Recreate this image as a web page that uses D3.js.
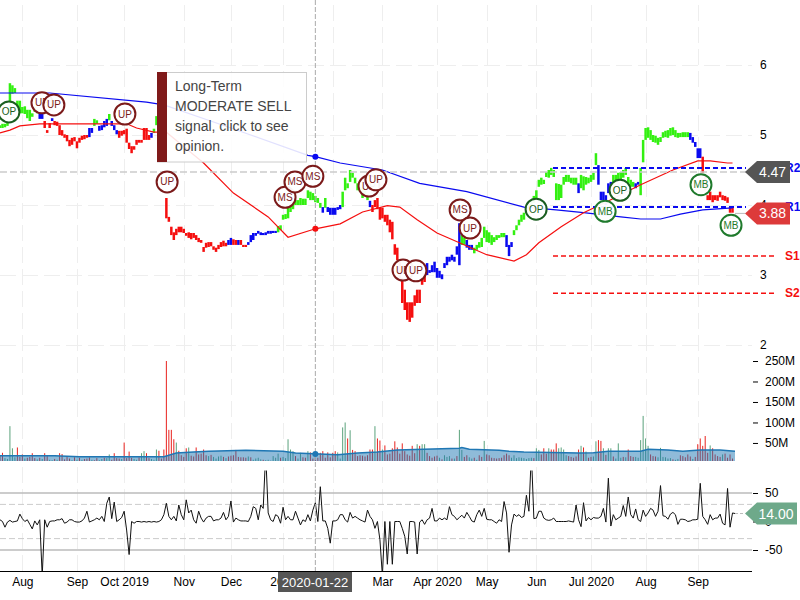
<!DOCTYPE html>
<meta charset="utf-8">
<style>
body { margin: 0; background: #fff; }
svg { display: block; font-family: "Liberation Sans", Arial, sans-serif; }
.axis text { fill: #000; font-size: 12px; font-family: "Liberation Sans", Arial, sans-serif; }
.axis .domain { display: none; }
.grid line { stroke: #eee; stroke-dasharray: 16 6; }
</style>
<body></body>
<script src="https://d3js.org/d3.v7.min.js"></script>
<script>
// one entry per trading day, index 0 is the left edge of the chart
const priceHigh = [
    5.14,5.16,5.16,5.19,5.74,5.71,5.67,5.49,5.49,5.40,5.41,5.36,5.36,5.31,5.40,5.37,5.31,5.30,5.20,5.07,
    5.17,5.24,5.20,5.19,5.14,5.07,5.01,5.00,4.93,4.96,4.97,4.91,4.96,4.99,5.00,5.00,5.10,5.10,5.23,5.21,
    5.13,5.14,5.20,5.23,5.30,5.20,5.14,5.07,5.06,5.06,5.07,5.09,4.89,4.84,4.84,4.93,4.93,4.93,5.10,5.10,
    5.00,5.03,5.09,5.27,5.26,5.24,5.21,4.10,3.83,3.69,3.61,3.66,3.69,3.69,3.66,3.60,3.61,3.60,3.60,3.57,
    3.53,3.50,3.40,3.46,3.47,3.47,3.41,3.39,3.43,3.47,3.49,3.46,3.50,3.53,3.51,3.50,3.50,3.50,3.43,3.43,
    3.47,3.57,3.60,3.60,3.63,3.61,3.60,3.61,3.63,3.63,3.63,3.63,3.70,3.71,3.86,3.87,3.96,4.00,4.03,4.07,
    4.07,4.10,4.09,4.09,4.21,4.19,4.17,4.13,4.10,4.03,3.97,4.10,3.97,3.96,3.96,3.96,3.97,4.00,4.19,4.39,
    4.31,4.50,4.46,4.39,4.31,4.26,4.24,4.21,4.16,4.06,4.00,4.07,4.10,3.96,3.96,3.86,3.86,3.79,3.76,3.44,
    3.39,3.19,2.96,2.79,2.61,2.61,2.61,2.71,2.79,2.79,2.97,3.03,3.17,3.07,3.14,3.19,3.10,3.06,3.01,3.17,
    3.26,3.26,3.29,3.26,3.41,3.74,3.57,3.53,3.50,3.43,3.43,3.39,3.43,3.47,3.53,3.69,3.64,3.61,3.57,3.54,
    3.57,3.57,3.60,3.60,3.57,3.43,3.47,3.64,3.71,3.79,3.86,3.89,3.97,4.01,4.06,4.13,4.21,4.36,4.39,4.36,
    4.47,4.50,4.53,4.50,4.31,4.30,4.29,4.40,4.43,4.43,4.39,4.39,4.39,4.31,4.43,4.41,4.40,4.39,4.43,4.46,
    4.74,4.57,4.19,4.19,4.14,4.31,4.33,4.43,4.43,4.46,4.47,4.50,4.53,4.40,4.36,4.33,4.31,4.33,4.53,4.93,
    5.10,5.11,5.07,5.00,4.99,4.96,4.97,5.04,5.06,5.07,5.10,5.11,5.07,5.03,5.03,5.04,5.04,5.04,5.03,4.97,
    4.90,4.81,4.81,4.69,4.43,4.14,4.19,4.14,4.14,4.14,4.19,4.14,4.13,4.11,3.97,3.97
]
const priceLow = [
    5.10,5.10,5.11,5.13,5.33,5.59,5.60,5.34,5.31,5.31,5.30,5.24,5.20,5.26,5.33,5.31,5.23,5.23,5.10,5.03,
    5.10,5.20,5.14,5.13,5.00,4.99,4.96,4.91,4.84,4.86,4.91,4.81,4.89,4.93,4.94,4.96,4.97,5.03,5.13,5.16,
    5.06,5.07,5.11,5.13,5.21,5.13,5.07,5.01,4.96,4.99,5.01,4.89,4.80,4.74,4.79,4.86,4.89,4.89,4.93,4.93,
    4.93,4.96,5.03,5.14,5.13,5.13,5.10,3.81,3.76,3.57,3.50,3.57,3.61,3.61,3.60,3.56,3.53,3.51,3.53,3.50,
    3.47,3.46,3.33,3.39,3.40,3.41,3.36,3.33,3.37,3.40,3.41,3.41,3.43,3.43,3.43,3.43,3.43,3.43,3.40,3.40,
    3.43,3.47,3.50,3.56,3.59,3.57,3.57,3.57,3.59,3.59,3.60,3.60,3.61,3.64,3.79,3.80,3.81,3.90,3.94,4.00,
    4.00,4.00,4.00,4.00,4.10,4.07,4.07,4.04,4.03,3.96,3.89,3.96,3.90,3.86,3.86,3.86,3.93,3.94,3.97,4.21,
    4.24,4.33,4.39,4.31,4.21,4.19,4.10,4.13,4.07,3.97,3.90,3.97,3.94,3.79,3.81,3.76,3.71,3.61,3.51,3.29,
    3.21,2.93,2.60,2.50,2.36,2.33,2.39,2.56,2.60,2.60,2.86,2.90,3.00,3.03,3.04,3.04,2.96,2.96,2.94,3.10,
    3.14,3.19,3.21,3.19,3.29,3.14,3.43,3.43,3.39,3.36,3.36,3.31,3.36,3.39,3.40,3.53,3.47,3.46,3.43,3.47,
    3.50,3.53,3.54,3.54,3.40,3.27,3.40,3.57,3.64,3.71,3.76,3.79,3.89,3.93,3.99,4.03,4.10,4.26,4.29,4.30,
    4.40,4.39,4.43,4.40,4.07,4.07,4.10,4.29,4.33,4.33,4.31,4.29,4.29,4.17,4.24,4.21,4.29,4.31,4.33,4.36,
    4.57,4.29,4.07,4.07,4.00,4.17,4.24,4.29,4.33,4.36,4.36,4.39,4.43,4.31,4.26,4.26,4.24,4.29,4.14,4.61,
    4.93,4.96,4.93,4.90,4.89,4.86,4.90,4.96,4.97,4.96,4.99,5.00,4.97,4.96,4.97,4.97,4.97,4.97,4.93,4.89,
    4.83,4.67,4.67,4.46,4.21,4.07,4.07,4.04,4.07,4.06,4.11,4.07,4.06,4.03,3.89,3.89
]
// signal of each day as [signal, number of days in a row]
const signalRuns = [
    ['buy',16],['hold',2],['sell',3],['hold',1],['sell',14],['hold',2],['buy',2],['hold',4],['buy',1],['hold',3],
    ['sell',13],['hold',1],['buy',5],['sell',25],['hold',2],['sell',2],['hold',1],['sell',3],['hold',12],['buy',18],
    ['hold',1],['buy',1],['hold',6],['buy',11],['hold',1],['sell',22],['hold',14],['buy',2],['hold',3],['buy',13],
    ['hold',3],['buy',26],['hold',1],['buy',7],['hold',6],['buy',9],['hold',2],['buy',20],['hold',5],['sell',13]
]
// millions of shares, a negative number is a down day
const volume = [
    -18,-26,13,11,91,37,15,-39,-16,-22,12,-14,-16,-25,-13,10,-14,11,-25,-18,
    9,8,-11,9,-25,-23,-10,-17,-12,8,-15,9,-14,9,-11,-12,-15,9,-8,-13,
    8,11,-14,13,22,-9,-25,-13,-12,11,-51,-13,-29,-14,11,9,-15,25,30,-25,
    -13,11,9,34,-31,-12,-34,-250,-82,-82,-59,51,-31,-20,-16,-37,39,-19,-17,-39,
    -22,-24,-34,-20,18,-21,16,12,17,19,-16,13,-17,-19,-20,-33,-16,-15,-15,-14,
    17,-15,9,12,14,10,-9,8,9,7,18,14,24,-14,16,13,59,34,30,-18,
    12,26,-15,-14,30,-27,-12,-15,-14,-26,-30,-14,-27,-15,-26,-30,27,12,88,100,
    -61,81,-33,-30,-18,-20,-19,-17,-20,-34,-34,91,-61,-56,34,-44,-22,-24,-37,-54,
    -39,-24,-49,-30,-22,-19,-43,-25,47,-43,47,47,-26,-18,-14,-17,-19,14,-10,20,
    16,18,-12,12,-18,82,33,-16,-20,15,12,-14,9,-20,-16,55,-22,-20,-14,-13,
    -12,-13,-14,-20,-24,-20,14,20,13,15,14,13,11,13,14,-13,37,33,-22,-37,
    -24,37,-34,-34,-49,37,39,34,20,-18,-16,-14,-17,-34,43,-39,29,-14,-16,17,
    54,-57,-55,37,-21,37,37,-17,12,49,14,-16,15,-34,-18,-16,16,14,57,116,
    61,43,-22,-18,-17,15,38,16,15,12,13,-10,9,11,-20,-18,-15,-22,-17,11,
    -16,-47,-61,-43,-67,-26,44,-37,-22,-18,-16,22,-24,-14,-22,-12
]
const oscillator = [
    3,0,-10,-1,2,-1,0,1,13,5,0,3,-5,-13,1,-6,3,-95,3,-10,
    0,1,1,3,3,5,-3,-1,3,3,0,-1,-1,1,6,18,-1,1,3,6,
    3,9,0,32,43,5,34,0,3,7,18,-15,-58,0,-3,0,0,-1,0,-1,
    0,-1,0,-1,0,3,12,32,9,3,9,1,29,12,3,38,15,20,3,-3,
    18,6,-1,6,9,9,1,3,3,6,16,3,9,36,-1,6,3,1,1,1,
    0,9,26,23,3,29,23,120,15,3,0,12,9,-3,25,3,9,3,3,18,
    6,-6,3,0,12,1,20,33,0,61,1,1,-12,-38,1,1,3,12,12,3,
    -1,16,6,9,6,3,1,-1,20,9,3,-12,0,-32,-95,0,-75,0,-75,0,
    0,0,-12,-26,-57,0,0,-1,-57,-1,3,-5,3,6,23,1,1,6,3,6,
    3,26,12,9,3,7,11,6,16,9,1,-1,12,20,9,23,4,3,3,0,
    -3,3,0,35,15,-54,-6,13,9,12,7,9,46,18,120,5,6,18,18,6,
    3,2,3,6,0,0,0,0,0,1,0,-1,29,3,-9,33,1,7,3,7,
    6,6,9,23,-1,76,-8,12,3,6,9,28,9,43,12,6,22,3,0,20,
    9,15,23,20,9,18,63,10,9,4,13,16,12,-5,4,4,3,0,1,3,
    3,4,67,9,3,-5,12,3,6,6,13,-3,-6,58,-10,15,14
]

// slow moving averages, read at their bends
const upperLineDay = [0,20,59,66,93,124,127,137,154,169,188,211,224,235,250,258,266,274,283,295]
const upperLinePrice = [5.60,5.60,5.47,5.43,5.10,4.71,4.69,4.60,4.50,4.31,4.19,3.97,3.93,3.89,3.83,3.80,3.80,3.87,3.93,3.96]
const lowerLineDay = [0,4,8,16,51,55,62,67,82,94,108,116,127,137,146,156,161,168,176,185,196,207,212,217,226,235,244,258,271,281,286,293,295]
const lowerLinePrice = [5.03,5.07,5.13,5.16,5.16,5.10,5.04,5.04,4.60,4.17,3.83,3.54,3.66,3.73,3.90,3.99,3.97,3.79,3.60,3.46,3.29,3.20,3.29,3.46,3.69,3.89,4.04,4.29,4.50,4.63,4.63,4.60,4.60]
const volumeAvgDay = [0,22,32,66,71,78,84,99,114,119,136,144,152,160,185,186,189,201,205,211,233,239,245,258,261,269,275,282,290,296]
const volumeAvgValue = [19,19,16.5,16.5,25.5,28,30,32,30,25.5,21,25.5,28,33,37,39,34.5,32,30,28,25.5,26,30,30,34.5,33,30,33,33,30]

const markerDay = [3.6,16.9,21.7,50.3,67.3,114.8,118.8,126,148.6,151.4,162.3,167.5,185.3,189.3,215.9,243.7,249.7,282.3,294.4]
const markerPrice = [5.33,5.46,5.43,5.30,4.33,4.11,4.33,4.41,4.27,4.36,3.07,3.06,3.93,3.67,3.94,3.91,4.21,4.29,3.71]
const markerText = ['OP','UP','UP','UP','UP','MS','MS','MS','UP','UP','UP','UP','MS','UP','OP','MB','OP','MB','MB']

const levelNames = ['R2','R1','S1','S2']
const levelPrices = [4.53,3.97,3.27,2.74]

const monthDays = [9,31,50,74,93,114,134,154,176,196,216,238,260,281]
const monthLabels = ['Aug','Sep','Oct 2019','Nov','Dec','2020','Feb','Mar','Apr 2020','May','Jun','Jul 2020','Aug','Sep']
const priceTicks = [2,3,4,5,6,7]
const volumeTicks = [50,100,150,200,250]
const oscillatorTicks = [-50,0,50]
const oscillatorBands = [-50,50]
const oscillatorGuides = [-30,30]

const crossDay = 127
const crossDate = '2020-01-22'
const crossPrice = 4.47
const lastPrice = 3.88
const lastOscillator = 14
const opinionLines = ['Long-Term','MODERATE SELL','signal, click to see','opinion.']

const signalColor = { buy: '#33f011', sell: '#f50f0f', hold: '#0a0af0' }
const markerColor = { UP: '#7b1a1a', MS: '#7b1a1a', OP: '#1b5e20', MB: '#1f7a2c' }

const x = d3.scaleLinear().domain([0, 296]).range([0, 735])
const yPrice = d3.scaleLinear().domain([2, 6]).range([345, 65])
const yVolume = d3.scaleLinear().domain([6, 250]).range([461, 361])
const yOsc = d3.scaleLinear().domain([50, -50]).range([493, 550])

const svg = d3.select('body').append('svg').attr('width', 800).attr('height', 600)

drawGrid()
drawBars()
drawAverages()
drawLevels()
drawVolume()
drawOscillator()
drawAxes()
drawCrosshair()
drawMarkers()
drawOpinion()
drawTags()

function drawGrid () {
    const g = svg.append('g').attr('class', 'grid')
    g.selectAll('.v').data(monthDays).enter().append('line')
        .attr('x1', d => Math.round(x(d)) + 0.5).attr('x2', d => Math.round(x(d)) + 0.5)
        .attr('y1', 5).attr('y2', 571)
    g.selectAll('.h').data(d3.range(2, 7)).enter().append('line')
        .attr('x1', 0).attr('x2', 752)
        .attr('y1', d => yPrice(d) + 0.5).attr('y2', d => yPrice(d) + 0.5)
}

function drawBars () {
    const signals = signalRuns.flatMap(([s, n]) => d3.range(n).map(() => s))
    svg.append('g').selectAll('line').data(priceHigh).enter().append('line')
        .attr('x1', (d, i) => x(i)).attr('x2', (d, i) => x(i))
        .attr('y1', d => yPrice(d))
        .attr('y2', (d, i) => yPrice(priceLow[i]))
        .attr('stroke', (d, i) => signalColor[signals[i]])
        .attr('stroke-width', 2.5)
}

function drawAverages () {
    const line = d3.line().x(d => x(d[0])).y(d => yPrice(d[1]))
    svg.append('path').attr('d', line(d3.zip(upperLineDay, upperLinePrice)))
        .attr('fill', 'none').attr('stroke', '#0a0af0').attr('stroke-width', 1.2)
    svg.append('path').attr('d', line(d3.zip(lowerLineDay, lowerLinePrice)))
        .attr('fill', 'none').attr('stroke', '#f50f0f').attr('stroke-width', 1.2)
}

function drawLevels () {
    levelNames.forEach((name, i) => {
        const resistance = name[0] === 'R'
        const color = resistance ? '#0a0af0' : '#f50f0f'
        const yy = yPrice(levelPrices[i])
        svg.append('line')
            .attr('x1', 553).attr('x2', resistance ? 746 : 775)
            .attr('y1', yy).attr('y2', yy)
            .attr('stroke', color).attr('stroke-width', resistance ? 2 : 1.5)
            .attr('stroke-dasharray', '5 3')
        svg.append('text').text(name)
            .attr('x', 785).attr('y', yy + 4)
            .attr('fill', color)
            .attr('font-size', 12).attr('font-weight', 'bold')
    })
}

function drawVolume () {
    svg.append('g').selectAll('line').data(volume).enter().append('line')
        .attr('x1', (d, i) => x(i)).attr('x2', (d, i) => x(i))
        .attr('y1', yVolume(6))
        .attr('y2', d => yVolume(Math.abs(d)))
        .attr('stroke', d => d < 0 ? '#e8221e' : '#5aa27c')
        .attr('stroke-width', 1)

    const points = d3.zip(volumeAvgDay, volumeAvgValue)
    svg.append('path')
        .attr('d', d3.area().x(d => x(d[0])).y0(yVolume(6)).y1(d => yVolume(d[1]))(points))
        .attr('fill', '#1f77b4').attr('fill-opacity', 0.5)
    svg.append('path')
        .attr('d', d3.line().x(d => x(d[0])).y(d => yVolume(d[1]))(points))
        .attr('fill', 'none').attr('stroke', '#1f77b4').attr('stroke-width', 1.5)
}

function drawOscillator () {
    svg.append('clipPath').attr('id', 'osc-clip').append('rect')
        .attr('x', 0).attr('y', 470.5).attr('width', 752).attr('height', 101)

    svg.selectAll('.band').data(oscillatorBands).enter().append('line')
        .attr('x1', 0).attr('x2', 752)
        .attr('y1', d => yOsc(d)).attr('y2', d => yOsc(d))
        .attr('stroke', '#bbb').attr('stroke-width', 1.5)
    svg.selectAll('.guide').data(oscillatorGuides).enter().append('line')
        .attr('x1', 0).attr('x2', 752)
        .attr('y1', d => yOsc(d)).attr('y2', d => yOsc(d))
        .attr('stroke', '#ccc').attr('stroke-dasharray', '6 3')

    svg.append('path')
        .attr('d', d3.line().x((d, i) => x(i)).y(d => yOsc(d))(oscillator))
        .attr('clip-path', 'url(#osc-clip)')
        .attr('fill', 'none').attr('stroke', '#111').attr('stroke-width', 1)
}

function drawAxes () {
    const bottom = svg.append('g').attr('class', 'axis')
        .attr('transform', 'translate(0,571.5)')
        .call(d3.axisBottom(x).tickValues(monthDays).tickFormat((d, i) => monthLabels[i]).tickSize(0).tickPadding(6))
    bottom.select('.domain').remove()
    svg.append('line').attr('x1', 0).attr('x2', 752)
        .attr('y1', 571.5).attr('y2', 571.5).attr('stroke', '#000')

    svg.append('g').attr('class', 'axis')
        .attr('transform', 'translate(752,0)')
        .call(d3.axisRight(yPrice).tickValues(priceTicks).tickFormat(d3.format('d')).tickSize(0).tickPadding(8))
    svg.append('g').attr('class', 'axis')
        .attr('transform', 'translate(753,0)')
        .call(d3.axisRight(yVolume).tickValues(volumeTicks).tickFormat(d => d + 'M').tickSize(5).tickPadding(7))
    svg.append('g').attr('class', 'axis')
        .attr('transform', 'translate(753,0)')
        .call(d3.axisRight(yOsc).tickValues(oscillatorTicks).tickFormat(d => d).tickSize(5).tickPadding(7))
}

function drawCrosshair () {
    const cx = x(crossDay)
    svg.append('line').attr('x1', cx).attr('x2', cx).attr('y1', 0).attr('y2', 571)
        .attr('stroke', '#aaa').attr('stroke-dasharray', '5 2')
    svg.append('line').attr('x1', 0).attr('x2', 752)
        .attr('y1', yPrice(crossPrice)).attr('y2', yPrice(crossPrice))
        .attr('stroke', '#ccc').attr('stroke-width', 1.5).attr('stroke-dasharray', '7 3')

    const upper = d3.scaleLinear().domain(upperLineDay).range(upperLinePrice)(crossDay)
    const lower = d3.scaleLinear().domain(lowerLineDay).range(lowerLinePrice)(crossDay)
    const avg = d3.scaleLinear().domain(volumeAvgDay).range(volumeAvgValue)(crossDay)
    svg.append('circle').attr('cx', cx).attr('cy', yPrice(upper)).attr('r', 3).attr('fill', '#0a0af0')
    svg.append('circle').attr('cx', cx).attr('cy', yPrice(lower)).attr('r', 3).attr('fill', '#f50f0f')
    svg.append('circle').attr('cx', cx).attr('cy', yVolume(avg)).attr('r', 3).attr('fill', '#1f77b4')

    svg.append('rect').attr('x', 278).attr('y', 572).attr('width', 74).attr('height', 20).attr('fill', '#555')
    svg.append('text').text(crossDate)
        .attr('x', 315).attr('y', 586.5)
        .attr('text-anchor', 'middle').attr('fill', '#fff').attr('font-size', 13)
}

function drawMarkers () {
    const g = svg.append('g').selectAll('g').data(markerText).enter().append('g')
        .attr('transform', (d, i) => `translate(${x(markerDay[i])},${yPrice(markerPrice[i])})`)
    g.append('circle').attr('r', 10.5)
        .attr('fill', '#fff').attr('fill-opacity', 0.95)
        .attr('stroke', d => markerColor[d]).attr('stroke-width', 2)
    g.append('text').text(d => d)
        .attr('y', 3.5).attr('text-anchor', 'middle')
        .attr('font-size', 10).attr('fill', d => markerColor[d])
}

function drawOpinion () {
    svg.append('rect').attr('x', 157.5).attr('y', 72.5).attr('width', 149).attr('height', 89.5)
        .attr('fill', '#fff').attr('fill-opacity', 0.88).attr('stroke', '#ccc')
    svg.append('rect').attr('x', 157).attr('y', 72).attr('width', 10).attr('height', 90).attr('fill', '#7f1a1a')
    svg.selectAll('.opinion').data(opinionLines).enter().append('text')
        .text(d => d)
        .attr('x', 175).attr('y', (d, i) => 91 + i * 20)
        .attr('font-size', 14).attr('fill', '#444')
}

function drawTags () {
    drawTag(yPrice(crossPrice), crossPrice.toFixed(2), '#555', 790)
    drawTag(yPrice(lastPrice), lastPrice.toFixed(2), '#dd3a3a', 790)
    drawTag(yOsc(lastOscillator), lastOscillator.toFixed(2), '#6ea98a', 797)

    svg.append('line').attr('x1', 735).attr('x2', 745)
        .attr('y1', yPrice(lastPrice)).attr('y2', yPrice(lastPrice)).attr('stroke', '#bbb')
    svg.append('line').attr('x1', 735).attr('x2', 745)
        .attr('y1', yOsc(lastOscillator)).attr('y2', yOsc(lastOscillator))
        .attr('stroke', '#bbb').attr('stroke-dasharray', '3 2')
}

function drawTag (yy, label, color, right) {
    const p = d3.path()
    p.moveTo(745, yy)
    p.lineTo(757, yy - 11)
    p.lineTo(right, yy - 11)
    p.lineTo(right, yy + 11)
    p.lineTo(757, yy + 11)
    p.closePath()
    svg.append('path').attr('d', p.toString()).attr('fill', color)
    svg.append('text').text(label)
        .attr('x', (757 + right) / 2 - 1).attr('y', yy + 5)
        .attr('text-anchor', 'middle').attr('fill', '#fff').attr('font-size', 14)
}
</script>
